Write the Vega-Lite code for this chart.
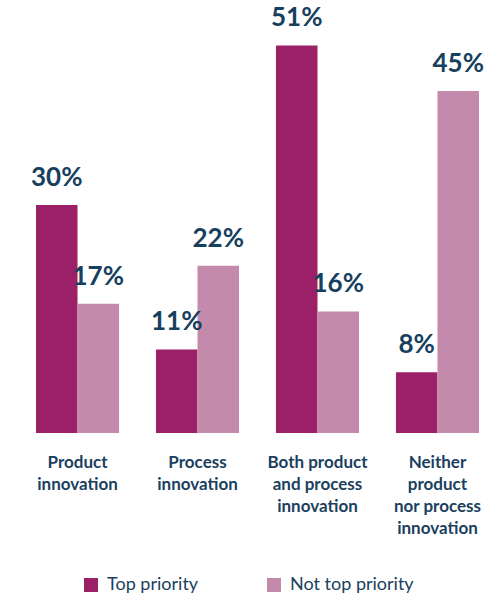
{
  "$schema": "https://vega.github.io/schema/vega-lite/v6.json",
  "width": 479,
  "height": 418,
  "autosize": {"type": "none"},
  "padding": {"left": 18, "top": 15, "right": 3, "bottom": 163},
  "background": "white",
  "config": {"view": {"stroke": null}, "font": "Lato"},
  "data": {
    "values": [
      {"category": "Product|innovation", "priority": "Top priority", "value": 0.30},
      {"category": "Product|innovation", "priority": "Not top priority", "value": 0.17},
      {"category": "Process|innovation", "priority": "Top priority", "value": 0.11},
      {"category": "Process|innovation", "priority": "Not top priority", "value": 0.22},
      {"category": "Both product|and process|innovation", "priority": "Top priority", "value": 0.51},
      {"category": "Both product|and process|innovation", "priority": "Not top priority", "value": 0.16},
      {"category": "Neither|product|nor process|innovation", "priority": "Top priority", "value": 0.08},
      {"category": "Neither|product|nor process|innovation", "priority": "Not top priority", "value": 0.45}
    ]
  },
  "encoding": {
    "x": {
      "field": "category",
      "type": "nominal",
      "sort": null,
      "scale": {"paddingInner": 0.308, "paddingOuter": 0.15},
      "axis": {
        "title": null,
        "labelAngle": 0,
        "domain": false,
        "ticks": false,
        "labelPadding": 21,
        "labelFontSize": 17,
        "labelFontWeight": "bold",
        "labelColor": "#1B3F5E",
        "labelLineHeight": 22,
        "labelBaseline": "top",
        "labelLimit": 200,
        "labelExpr": "split(datum.label, '|')"
      }
    },
    "xOffset": {
      "field": "priority",
      "type": "nominal",
      "sort": ["Top priority", "Not top priority"],
      "scale": {"paddingInner": 0, "paddingOuter": 0}
    },
    "y": {
      "field": "value",
      "type": "quantitative",
      "scale": {"domain": [0, 0.55]},
      "axis": null
    }
  },
  "layer": [
    {
      "mark": {"type": "bar"},
      "encoding": {
        "color": {
          "field": "priority",
          "type": "nominal",
          "sort": ["Top priority", "Not top priority"],
          "scale": {"domain": ["Top priority", "Not top priority"], "range": ["#9B2067", "#C48AAB"]},
          "legend": {
            "title": null,
            "orient": "none",
            "direction": "horizontal",
            "legendX": 64,
            "legendY": 561,
            "symbolType": "square",
            "symbolSize": 196,
            "symbolStrokeWidth": 0,
            "symbolOpacity": 1,
            "labelFontSize": 18,
            "labelColor": "#1B3F5E",
            "labelOffset": 7,
            "columnPadding": 66
          }
        }
      }
    },
    {
      "mark": {"type": "text", "baseline": "bottom", "dy": -14, "fontSize": 26, "fontWeight": "bold", "color": "#17405E"},
      "encoding": {
        "text": {"field": "value", "type": "quantitative", "format": ".0%"}
      }
    }
  ]
}
